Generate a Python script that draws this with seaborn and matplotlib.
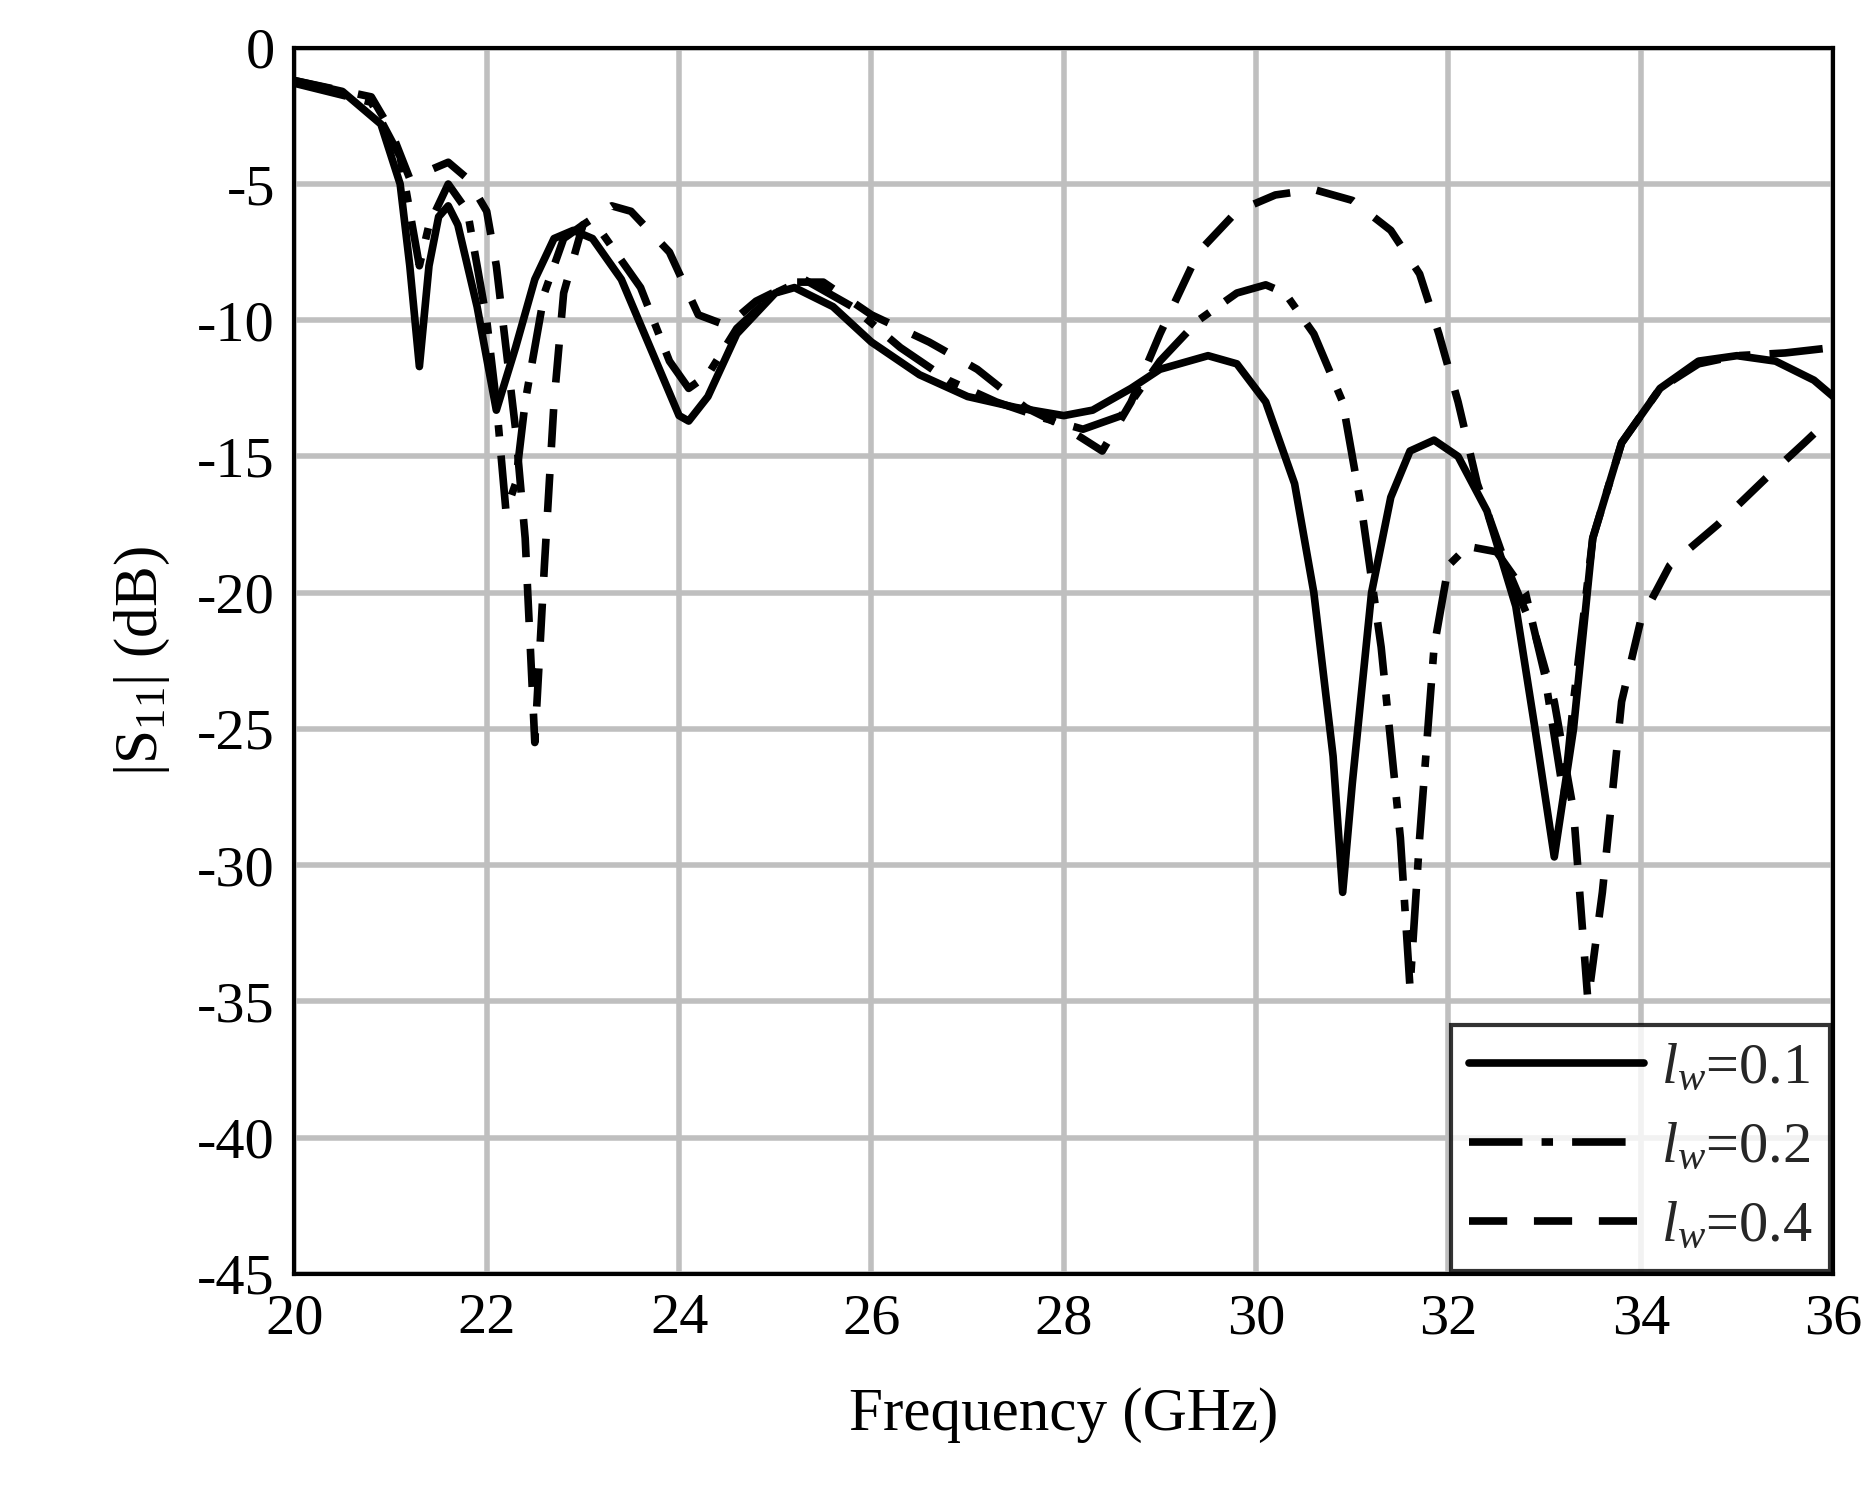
import numpy as np
import pandas as pd
import seaborn as sns
import matplotlib
matplotlib.use("Agg")
import matplotlib.pyplot as plt

f1 = [20,20.5,20.9,21.1,21.2,21.3,21.4,21.5,21.6,21.7,21.9,22.1,22.3,22.5,22.7,22.9,23.1,23.4,23.7,24.0,24.1,24.3,24.6,25.0,25.2,25.6,26,26.5,27,27.5,28,28.3,28.7,29.0,29.5,29.8,30.1,30.4,30.6,30.8,30.9,31.0,31.2,31.4,31.6,31.85,32.1,32.4,32.7,32.9,33.1,33.3,33.5,33.8,34.2,34.6,35,35.4,35.8,36]
s1 = [-1.2,-1.6,-2.8,-5,-8,-11.7,-8,-6.2,-5.8,-6.5,-9.5,-13.3,-11,-8.5,-7,-6.7,-7,-8.5,-11,-13.5,-13.7,-12.8,-10.5,-9,-8.8,-9.5,-10.8,-12,-12.8,-13.2,-13.5,-13.3,-12.5,-11.8,-11.3,-11.6,-13,-16,-20,-26,-31,-27,-20,-16.5,-14.8,-14.4,-15,-17,-20.5,-25,-29.7,-25,-18,-14.5,-12.5,-11.5,-11.3,-11.5,-12.2,-12.8]
f2 = [20,20.8,21.1,21.3,21.4,21.6,21.8,22.0,22.1,22.2,22.3,22.4,22.6,22.8,23,23.2,23.6,23.9,24.1,24.3,24.6,25,25.3,25.8,26.3,26.8,27.3,27.8,28.2,28.6,29,29.4,29.8,30.1,30.3,30.6,30.9,31.1,31.3,31.5,31.6,31.7,31.85,32.0,32.2,32.5,32.8,33.0,33.2,33.3,33.5,33.8,34.2,34.6,35,35.5,36]
s2 = [-1.3,-2,-4,-8,-6.5,-5,-6,-10,-13,-17,-16,-13,-9,-7,-6.5,-6.8,-8.8,-11.5,-12.5,-12,-10.3,-9,-8.5,-9.5,-11,-12.2,-13,-13.6,-14.0,-13.5,-11.5,-10,-9,-8.7,-9,-10.5,-13,-17,-22,-29,-34.5,-29,-22,-19,-18.3,-18.5,-20,-23,-27.5,-24,-18,-14.5,-12.5,-11.6,-11.3,-11.2,-11.0]
f3 = [20,20.8,21.0,21.2,21.4,21.6,21.8,22.0,22.1,22.2,22.3,22.4,22.5,22.6,22.7,22.8,23.0,23.3,23.5,23.9,24.2,24.5,24.8,25.2,25.5,26,26.6,27.1,27.6,28.0,28.4,28.7,29.0,29.4,29.8,30.2,30.6,31,31.4,31.7,31.9,32.1,32.3,32.6,32.9,33.1,33.3,33.45,33.6,33.8,34.0,34.3,34.8,35.3,35.7,36]
s3 = [-1.2,-1.8,-3,-4.8,-4.5,-4.2,-4.8,-6,-8,-11,-14,-18,-25.5,-19,-13,-9,-6.5,-5.8,-6,-7.5,-9.8,-10.2,-9.3,-8.6,-8.6,-9.8,-10.8,-11.8,-13.2,-13.9,-14.8,-13,-10.5,-7.5,-6,-5.4,-5.2,-5.6,-6.7,-8.3,-10.5,-13,-16,-19,-21.5,-24,-28,-35,-31,-24,-21,-19,-17.5,-15.8,-14.5,-13.5]

sns.set_theme(style="white")
plt.rcParams['font.family'] = ['Liberation Serif', 'DejaVu Serif']
plt.rcParams['mathtext.fontset'] = 'custom'
plt.rcParams['mathtext.it'] = 'Liberation Serif:italic'
plt.rcParams['mathtext.rm'] = 'Liberation Serif'
plt.rcParams['axes.unicode_minus'] = False

fig = plt.figure(figsize=(18.63, 14.95), dpi=100)
ax = fig.add_axes([0.158, 0.148, 0.826, 0.82])
dashes = [None, (7, 2.5, 1.5, 2.5), (5, 3.5)]
labels = ["$l_w$=0.1", "$l_w$=0.2", "$l_w$=0.4"]
for (f, s), lab, dsh in zip([(f1, s1), (f2, s2), (f3, s3)], labels, dashes):
    df = pd.DataFrame({"f": f, "s": s})
    sns.lineplot(data=df, x="f", y="s", ax=ax, color="black", lw=5.5, label=lab)
    if dsh is not None:
        ax.lines[-1].set_dashes(dsh)
ax.set_xlim(20, 36)
ax.set_ylim(-45, 0)
ax.set_xticks(range(20, 37, 2))
ax.set_yticks(range(-45, 1, 5))
ax.grid(True, color="#bfbfbf", lw=4)
ax.set_axisbelow(True)
for sp in ax.spines.values():
    sp.set_color("black"); sp.set_linewidth(3)
ax.tick_params(labelsize=42, colors="black", length=0, pad=14)
ax.set_xlabel("Frequency (GHz)", fontsize=44, color="black", labelpad=30)
ax.set_ylabel("|S$_{11}$| (dB)", fontsize=44, color="black", labelpad=18)
leg = ax.legend(loc="lower right", fontsize=42, frameon=True, fancybox=False,
                edgecolor="black", handlelength=3.0, handletextpad=0.3,
                borderaxespad=0.05, borderpad=0.3, labelspacing=0.45)
leg.get_frame().set_linewidth(3)
fig.savefig("out.png", dpi=100, facecolor="white")
